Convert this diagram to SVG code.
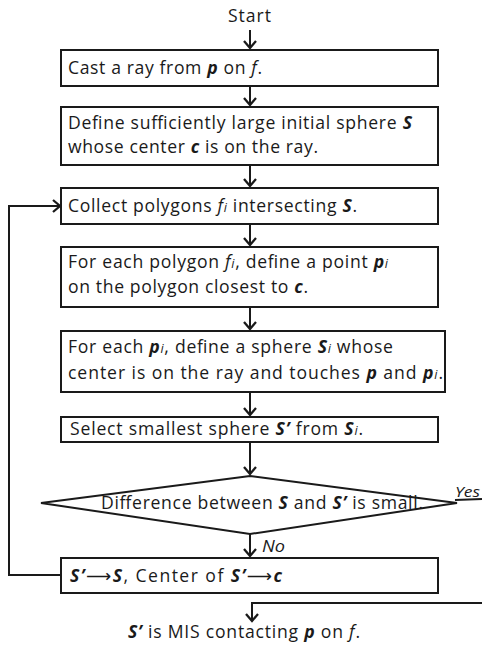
<svg xmlns="http://www.w3.org/2000/svg" width="482" height="653" viewBox="0 0 482 653">
<style>
text{font-family:"Open Sans","Liberation Sans",Arial,sans-serif;font-size:17.6px;fill:#1a1a1a}
.b{font-weight:bold;font-style:italic}
.i{font-style:italic}
.s{font-style:italic;font-size:12.5px}
.ar{font-family:"DejaVu Sans",sans-serif}
.box{fill:#fff;stroke:#1a1a1a;stroke-width:2}
.ln{fill:none;stroke:#1a1a1a;stroke-width:2}
</style>
<defs>
<marker id="ah" viewBox="-8 -7 10 14" markerWidth="10" markerHeight="14" refX="0" refY="0" orient="auto" markerUnits="userSpaceOnUse">
<path d="M-7,-6 L0,0 L-7,6" fill="none" stroke="#1a1a1a" stroke-width="2.3"/>
</marker>
</defs>
<g id="connectors">
<line class="ln" x1="250" y1="30" x2="250" y2="48" marker-end="url(#ah)"/>
<line class="ln" x1="250" y1="86" x2="250" y2="105" marker-end="url(#ah)"/>
<line class="ln" x1="250" y1="165" x2="250" y2="186" marker-end="url(#ah)"/>
<line class="ln" x1="250" y1="224" x2="250" y2="245" marker-end="url(#ah)"/>
<line class="ln" x1="250" y1="307" x2="250" y2="329" marker-end="url(#ah)"/>
<line class="ln" x1="250" y1="392" x2="250" y2="415" marker-end="url(#ah)"/>
<line class="ln" x1="250" y1="442" x2="250" y2="474" marker-end="url(#ah)"/>
<line class="ln" x1="250" y1="534" x2="250" y2="556" marker-end="url(#ah)"/>
<polyline class="ln" points="61,575 9,575 9,206 60,206" marker-end="url(#ah)"/>
<line class="ln" x1="455" y1="500" x2="482" y2="499"/>
<polyline class="ln" points="482,603 252,603 252,621" marker-end="url(#ah)"/>
<text x="455" y="497" class="i" style="font-size:15px" textLength="25" lengthAdjust="spacingAndGlyphs">Yes</text>
<text x="262" y="552" class="i" style="font-size:16px" textLength="23" lengthAdjust="spacingAndGlyphs">No</text>
</g>
<g id="start"><text x="228" y="22" textLength="43">Start</text></g>
<g id="n1"><rect class="box" x="61" y="50" width="377" height="36"/>
<text x="68" y="74" textLength="194">Cast a ray from <tspan class="b">p</tspan> on <tspan class="i">f</tspan>.</text></g>
<g id="n2"><rect class="box" x="61" y="107" width="377" height="58"/>
<text x="68" y="129" textLength="344">Define sufficiently large initial sphere <tspan class="b">S</tspan></text>
<text x="68" y="153" textLength="250">whose center <tspan class="b">c</tspan> is on the ray.</text></g>
<g id="n3"><rect class="box" x="61" y="188" width="377" height="36"/>
<text x="68" y="212" textLength="289">Collect polygons <tspan class="i">f</tspan><tspan class="s">i</tspan> intersecting <tspan class="b">S</tspan>.</text></g>
<g id="n4"><rect class="box" x="61" y="247" width="377" height="60"/>
<text x="68" y="268" textLength="320">For each polygon <tspan class="i">f</tspan><tspan class="s">i</tspan>, define a point <tspan class="b">p</tspan><tspan class="s">i</tspan></text>
<text x="68" y="293" textLength="240">on the polygon closest to <tspan class="b">c</tspan>.</text></g>
<g id="n5"><rect class="box" x="61" y="331" width="384" height="61"/>
<text x="68" y="353" textLength="325">For each <tspan class="b">p</tspan><tspan class="s">i</tspan>, define a sphere <tspan class="b">S</tspan><tspan class="s">i</tspan> whose</text>
<text x="68" y="379" textLength="375">center is on the ray and touches <tspan class="b">p</tspan> and <tspan class="b">p</tspan><tspan class="s">i</tspan>.</text></g>
<g id="n6"><rect class="box" x="61" y="417" width="377" height="25"/>
<text x="70" y="435" textLength="293">Select smallest sphere <tspan class="b">S’</tspan> from <tspan class="b">S</tspan><tspan class="s">i</tspan>.</text></g>
<g id="n7"><polygon class="box" points="250,476 457,503 250,534 41,503"/>
<text x="101" y="509" textLength="322">Difference between <tspan class="b">S</tspan> and <tspan class="b">S’</tspan> is small.</text></g>
<g id="n8"><rect class="box" x="61" y="558" width="377" height="35"/>
<text x="70" y="582" textLength="212"><tspan class="b">S’</tspan><tspan class="ar">⟶</tspan><tspan class="b">S</tspan>, Center of <tspan class="b">S’</tspan><tspan class="ar">⟶</tspan><tspan class="b">c</tspan></text></g>
<g id="end"><text x="128" y="638" textLength="232"><tspan class="b">S’</tspan> is MIS contacting <tspan class="b">p</tspan> on <tspan class="i">f</tspan>.</text></g>
</svg>
